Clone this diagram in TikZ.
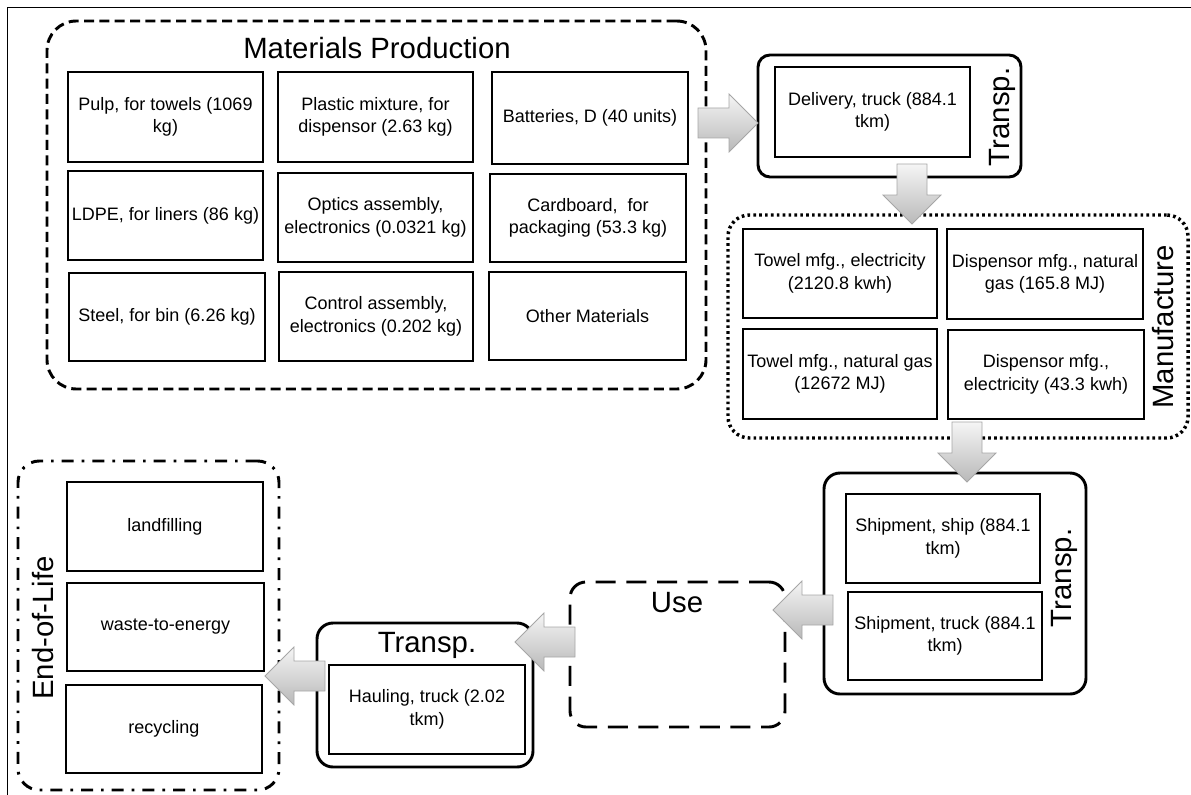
\documentclass[tikz,border=0pt]{standalone}
\usepackage{fontspec}
\setmainfont{Liberation Sans}
\usetikzlibrary{fit}
\tikzset{
  box/.style={draw, line width=2.2pt, inner sep=0pt},
  txt/.style={inner sep=0pt, align=center, font=\fontsize{13.5}{17}\selectfont},
  grp/.style={draw, line width=2.2pt, inner sep=0pt, rounded corners=#1},
  big/.style={font=\fontsize{22}{26}\selectfont, inner sep=0pt},
  barrowstyle/.style={draw=gray!70, line width=0.6pt, top color=gray!8, bottom color=gray!55},
  barrow/.pic={\path[barrowstyle] (0,0) -- (-29,-29) -- (-29,-15) -- (-60,-15) -- (-60,15) -- (-29,15) -- (-29,29) -- cycle;}
}
\newcommand\bx[4]{\node[box, fit={(#2) (#3)}] (#1) {};\node[txt] (#1t) at (#1.center) {#4};}
\begin{document}
\begin{tikzpicture}[x=0.75pt,y=-0.75pt]
\useasboundingbox (0,0) rectangle (1191,795);
% outer frame
\draw[line width=0.7pt] (7,810) -- (7,7) -- (1210,7);

% ---------- Materials Production ----------
\node[grp=22pt, dash pattern=on 7.5pt off 4pt, fit={(47,21) (706,389)}] (mat) {};
\node[big] (matT) at (377,48) {Materials Production};
\bx{m11}{68,72}{263,162}{Pulp, for towels (1069\\kg)}
\bx{m12}{278,72}{473,162}{Plastic mixture, for\\dispensor (2.63 kg)}
\bx{m13}{492,72}{688,164}{Batteries, D (40 units)}
\bx{m21}{68,171}{263,260}{LDPE, for liners (86 kg)}
\bx{m22}{278,173}{473,262}{Optics assembly,\\electronics (0.0321 kg)}
\bx{m23}{490,174}{686,262}{Cardboard,\ \ for\\packaging (53.3 kg)}
\bx{m31}{69,273}{265,361}{Steel, for bin (6.26 kg)}
\bx{m32}{279,272}{473,361}{Control assembly,\\electronics (0.202 kg)}
\bx{m33}{489,272}{686,360}{Other Materials}

% ---------- Transp. 1 ----------
\node[grp=9pt, fit={(758,55) (1021,177)}] (t1) {};
\bx{t1a}{775,67}{970,157}{Delivery, truck (884.1\\tkm)}
\node[big, rotate=90] (t1T) at (1002,117) {Transp.};

% ---------- Manufacture ----------
\node[grp=16pt, line width=2.6pt, dash pattern=on 2pt off 2.4pt, fit={(728,215) (1188,438)}] (man) {};
\bx{f11}{743,229}{937,318}{Towel mfg., electricity\\(2120.8 kwh)}
\bx{f12}{947,229}{1143,319}{Dispensor mfg., natural\\gas (165.8 MJ)}
\bx{f21}{743,329}{937,419}{Towel mfg., natural gas\\(12672 MJ)}
\bx{f22}{948,330}{1144,419}{Dispensor mfg.,\\electricity (43.3 kwh)}
\node[big, rotate=90] (manT) at (1163,327) {Manufacture};

% ---------- Transp. 2 ----------
\node[grp=12pt, fit={(824,473) (1086,694)}] (t2) {};
\bx{t2a}{846,494}{1040,583}{Shipment, ship (884.1\\tkm)}
\bx{t2b}{848,592}{1042,680}{Shipment, truck (884.1\\tkm)}
\node[big, rotate=90] (t2T) at (1064,578) {Transp.};

% ---------- Use ----------
\node[grp=12pt, dash pattern=on 15pt off 8pt, fit={(570,582) (785,727)}] (use) {};
\node[big] (useT) at (677,603) {Use};

% ---------- Transp. 3 ----------
\node[grp=12pt, fit={(317,623) (533,767)}] (t3) {};
\bx{t3a}{329,665}{525,754}{Hauling, truck (2.02\\tkm)}
\node[big] (t3T) at (427,645) {Transp.};

% ---------- End-of-Life ----------
\node[grp=16pt, dash pattern=on 9pt off 6pt on 2pt off 6pt, fit={(18,461) (279,790)}] (eol) {};
\bx{e1}{67,482}{263,571}{landfilling}
\bx{e2}{67,583}{264,671}{waste-to-energy}
\bx{e3}{66,685}{262,773}{recycling}
\node[big, rotate=90] (eolT) at (43,628) {End-of-Life};

% ---------- block arrows ----------
\pic at (758,123) {barrow};
\pic[rotate=-90] at (912,224) {barrow};
\pic[rotate=-90] at (967,482) {barrow};
\pic[rotate=180] at (773,610) {barrow};
\pic[rotate=180] at (515,642) {barrow};
\pic[rotate=180] at (265,676) {barrow};
\end{tikzpicture}
\end{document}
